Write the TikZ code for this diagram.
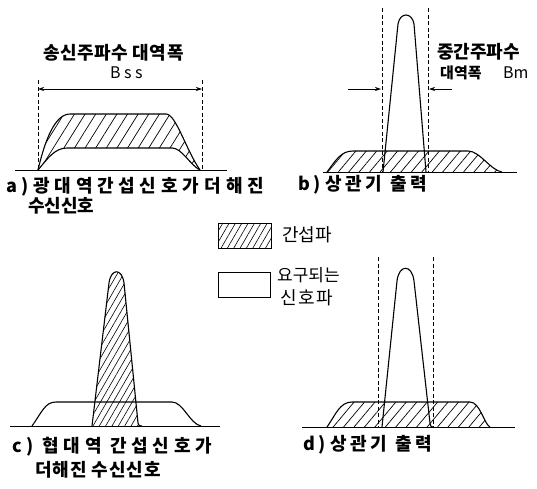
\documentclass[tikz,border=0pt]{standalone}
\usepackage{fontspec}
\newfontfamily\kr{Noto Sans CJK KR}
\usetikzlibrary{patterns.meta,arrows.meta}
\newcommand\lsp[2]{{\addfontfeature{LetterSpace=#1}#2}}
\begin{document}
\begin{tikzpicture}[x=1pt,y=-1pt,
  curve/.style={line width=1.1pt,line join=round},
  baseln/.style={line width=1pt},
  guide/.style={line width=0.7pt,dash pattern=on 4pt off 2.5pt},
  hatch/.style={pattern={Lines[angle=#1,distance=8pt,line width=0.7pt]}},
  finehatch/.style={pattern={Lines[angle=#1,distance=5.5pt,line width=0.6pt]}},
  lbl/.style={font=\kr\bfseries\fontsize{18}{20}\selectfont,anchor=west,inner sep=0pt},
  leg/.style={font=\kr\fontsize{18}{20}\selectfont,anchor=west,inner sep=0pt},
  lat/.style={font=\kr\fontsize{16}{18}\selectfont,anchor=west,inner sep=0pt},
  dimarrow/.style={line width=0.7pt,-{Stealth[length=6pt,width=4pt]}},
  dimboth/.style={line width=0.7pt,{Stealth[length=6pt,width=4pt]}-{Stealth[length=6pt,width=4pt]}},
]
\useasboundingbox (0,0) rectangle (537,488);

% ---------------- panel a ----------------
\fill[pattern={Lines[angle=58,distance=9pt,line width=0.7pt]}] (38,170) .. controls (45,140) and (55,114) .. (70,114) -- (166,114)
   .. controls (176,114) and (186,150) .. (200,170)
   .. controls (190,165) and (182,148) .. (172,148) -- (67,148)
   .. controls (55,148) and (48,158) .. (38,170) -- cycle;
\draw[curve] (38,170) .. controls (45,140) and (55,114) .. (70,114) -- (166,114)
   .. controls (176,114) and (186,150) .. (200,170);
\draw[curve] (38,170) .. controls (48,158) and (55,148) .. (67,148) -- (172,148)
   .. controls (182,148) and (190,165) .. (200,170);
\draw[baseln] (15,170) -- (227,170);
\coordinate (aT1) at (38,80); \coordinate (aB1) at (38,170);
\coordinate (aT2) at (202,80); \coordinate (aB2) at (202,170);
\draw[guide] (aT1) -- (aB1);
\draw[guide] (aT2) -- (aB2);
\coordinate (aA1) at (38,89); \coordinate (aA2) at (202,89);
\draw[dimboth] (aA1) -- (aA2);
\node[lbl] (ta) at (43,53) {\lsp{3}{송신주파수 대역폭}};
\node[lat] (bss) at (110,73) {\lsp{22}{Bss}};
\node[lbl] (la1) at (6,187) {\lsp{26}{a)광대역간섭신호가\hspace{6pt}더해진}};
\node[lbl] (la2) at (28,206) {수신신호};

% ---------------- panel b ----------------
\fill[hatch=50] (327,172) .. controls (336,160) and (341,151) .. (353,151) -- (468,151)
   .. controls (480,151) and (490,170) .. (502,172) -- cycle;
\draw[curve] (327,172) .. controls (336,160) and (341,151) .. (353,151) -- (468,151)
   .. controls (480,151) and (490,170) .. (502,172);
\draw[curve] (383,172) -- (398,24) .. controls (400,12) and (412,12) .. (414,24) -- (426,172);
\draw[baseln] (323,172) -- (517,172);
\coordinate (bT1) at (382,8); \coordinate (bB1) at (382,172);
\coordinate (bT2) at (428,8); \coordinate (bB2) at (428,172);
\draw[guide] (bT1) -- (bB1);
\draw[guide] (bT2) -- (bB2);
\coordinate (bL) at (348,89); \coordinate (bLe) at (381,89);
\coordinate (bR) at (452,89); \coordinate (bRe) at (429,89);
\draw[dimarrow] (bL) -- (bLe);
\draw[dimarrow] (bR) -- (bRe);
\node[lbl] (tb1) at (437,52) {중간주파수};
\node[lbl,font=\kr\bfseries\fontsize{15}{17}\selectfont] (tb2) at (440,73) {대역폭};
\node[lat] (bm) at (503,73) {Bm};
\node[lbl] (lb) at (298,185) {\lsp{21}{b)\hspace{4pt}상관기 출력}};

% ---------------- legend ----------------
\draw[line width=0.9pt,finehatch=60] (218,223) rectangle (271,248);
\draw[line width=0.9pt] (218,272) rectangle (270,297);
\node[leg] (lg1) at (282,235) {간섭파};
\node[leg,font=\kr\fontsize{17}{19}\selectfont] (lg2) at (277,275) {요구되는};
\node[leg] (lg3) at (280,298) {\lsp{10}{신호파}};

% ---------------- panel c ----------------
\draw[curve] (32,426) .. controls (42,412) and (45,402) .. (56,402) -- (172,402)
   .. controls (183,402) and (190,424) .. (201,426);
\fill[finehatch=60] (92,426) -- (109,283) .. controls (111,268) and (122,268) .. (124,283)
   -- (138,423) .. controls (139,426) .. (142,426) -- cycle;
\draw[curve] (92,426) -- (109,283) .. controls (111,268) and (122,268) .. (124,283)
   -- (138,423) .. controls (139,426) .. (142,426);
\draw[baseln] (10,426) -- (220,426);
\node[lbl] (lc1) at (12,447) {\lsp{26}{c) 협대역 간섭신호가}};
\node[lbl] (lc2) at (35,470) {\lsp{5}{더해진 수신신호}};

% ---------------- panel d ----------------
\fill[hatch=50] (327,427) .. controls (336,414) and (340,402) .. (352,402) -- (470,402)
   .. controls (480,402) and (484,424) .. (490,427) -- cycle;
\draw[curve] (327,427) .. controls (336,414) and (340,402) .. (352,402) -- (470,402)
   .. controls (480,402) and (484,424) .. (490,427);
\draw[curve] (382,427) -- (397,281) .. controls (399,264) and (412,264) .. (414,281) -- (430,423) .. controls (431,427) .. (433,427);
\draw[baseln] (302,427) -- (515,427);
\coordinate (dT1) at (378,257); \coordinate (dB1) at (378,427);
\coordinate (dT2) at (433,257); \coordinate (dB2) at (433,427);
\draw[guide] (dT1) -- (dB1);
\draw[guide] (dT2) -- (dB2);
\node[lbl] (ld) at (303,445) {\lsp{21}{d)\hspace{4pt}상관기 출력}};
\end{tikzpicture}
\end{document}
